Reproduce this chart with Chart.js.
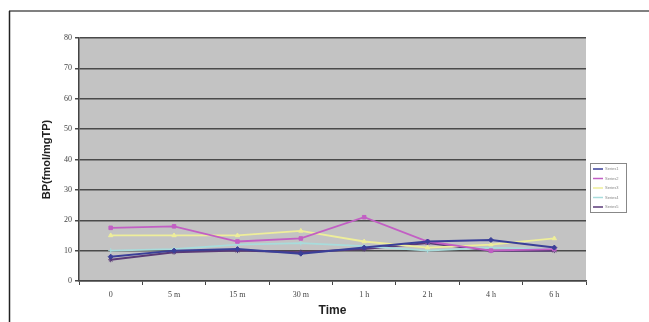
<!DOCTYPE html>
<html><head><meta charset="utf-8">
<script src="https://cdn.jsdelivr.net/npm/chart.js@4/dist/chart.umd.min.js"></script>
<style>html,body{margin:0;padding:0;background:#fff}#wrap{width:649px;height:322px;position:relative}</style>
</head><body><div id="wrap"><canvas id="c" width="649" height="322"></canvas></div>
<script>
const categories = ["0", "5 m", "15 m", "30 m", "1 h", "2 h", "4 h", "6 h"];
const seriesNames = ["Series1", "Series2", "Series3", "Series4", "Series5"];
const series1 = [8, 10, 10.5, 9, 11, 13, 13.5, 11];
const series2 = [17.5, 18, 13, 14, 21, 13, 10, 10.5];
const series3 = [15, 15, 15, 16.5, 13, 11, 12, 14];
const series4 = [10, 10.5, 12, 12.5, 11.5, 10, 11, 10.5];
const series5 = [7, 9.5, 10, 9.5, 10.5, 12.5, 10, 10];
const yTicks = [0, 10, 20, 30, 40, 50, 60, 70, 80];

const colors = ["#3a3f98", "#c25fc4", "#eeee9a", "#a8dcdc", "#5a3a78"];
const markers = ["rectRot", "rect", "triangle", "cross", "star"];
const vals = [series1, series2, series3, series4, series5];

const bgPlugin = {
  id: 'bg',
  beforeDraw(chart) {
    const {ctx, chartArea: a} = chart;
    ctx.save();
    ctx.fillStyle = '#c3c3c3';
    ctx.fillRect(a.left, a.top, a.right - a.left, a.bottom - a.top);
    // outer frame
    ctx.strokeStyle = '#808080';
    ctx.lineWidth = 2;
    ctx.beginPath(); ctx.moveTo(9, 11); ctx.lineTo(649, 11); ctx.stroke();
    ctx.strokeStyle = '#222';
    ctx.lineWidth = 1.5;
    ctx.beginPath(); ctx.moveTo(9.5, 11); ctx.lineTo(9.5, 322); ctx.stroke();
    ctx.restore();
  },
  afterDraw(chart) {
    const {ctx} = chart;
    const x0 = 590, y0 = 163, w = 36, h = 49;
    ctx.save();
    ctx.fillStyle = '#fff';
    ctx.fillRect(x0, y0, w, h);
    ctx.strokeStyle = '#888';
    ctx.lineWidth = 1;
    ctx.strokeRect(x0 + 0.5, y0 + 0.5, w, h);
    chart.data.datasets.forEach((ds, i) => {
      const y = y0 + 6 + i * 9.5;
      ctx.strokeStyle = ds.borderColor;
      ctx.lineWidth = 1.5;
      ctx.beginPath(); ctx.moveTo(x0 + 3, y); ctx.lineTo(x0 + 13, y); ctx.stroke();
      ctx.fillStyle = '#888';
      ctx.font = '4px "Liberation Sans"';
      ctx.textBaseline = 'middle';
      ctx.fillText(ds.label, x0 + 15, y);
    });
    ctx.restore();
  }
};

new Chart(document.getElementById('c'), {
  type: 'line',
  data: {
    labels: categories,
    datasets: vals.map((v, i) => ({
      label: seriesNames[i],
      data: v,
      borderColor: colors[i],
      backgroundColor: colors[i],
      borderWidth: i === 0 || i === 4 ? 2 : 1.8,
      pointStyle: markers[i],
      pointRadius: 2.5,
      pointBorderWidth: 1,
      tension: 0,
      fill: false
    }))
  },
  options: {
    responsive: false,
    animation: false,
    devicePixelRatio: 1,
    layout: {padding: {top: 38, right: 63, left: 0, bottom: 0}},
    plugins: {legend: {display: false}, tooltip: {enabled: false}},
    scales: {
      x: {
        offset: true,
        grid: {display: true, drawOnChartArea: false, offset: true, color: '#444', tickLength: 4},
        border: {color: '#444', width: 1.5},
        ticks: {font: {family: 'Liberation Serif', size: 8}, color: '#444', padding: 5, maxRotation: 0},
        title: {display: true, text: 'Time', font: {family: 'Liberation Sans', size: 12, weight: 'bold'}, color: '#222', padding: {top: 0, bottom: 4}},
        afterFit(s) { s.height = 41; }
      },
      y: {
        min: 0, max: 80,
        afterBuildTicks(s) { s.ticks = yTicks.map(v => ({value: v})); },
        grid: {color: '#4a4a4a', lineWidth: 1.5, tickLength: 4},
        border: {color: '#444', width: 1.5},
        ticks: {font: {family: 'Liberation Serif', size: 8}, color: '#444', padding: 3},
        title: {display: true, text: 'BP(fmol/mgTP)', font: {family: 'Liberation Sans', size: 11, weight: 'bold'}, color: '#222', padding: {top: 40, bottom: 0}},
        afterFit(s) { s.width = 79; }
      }
    }
  },
  plugins: [bgPlugin]
});
</script>
</body></html>
